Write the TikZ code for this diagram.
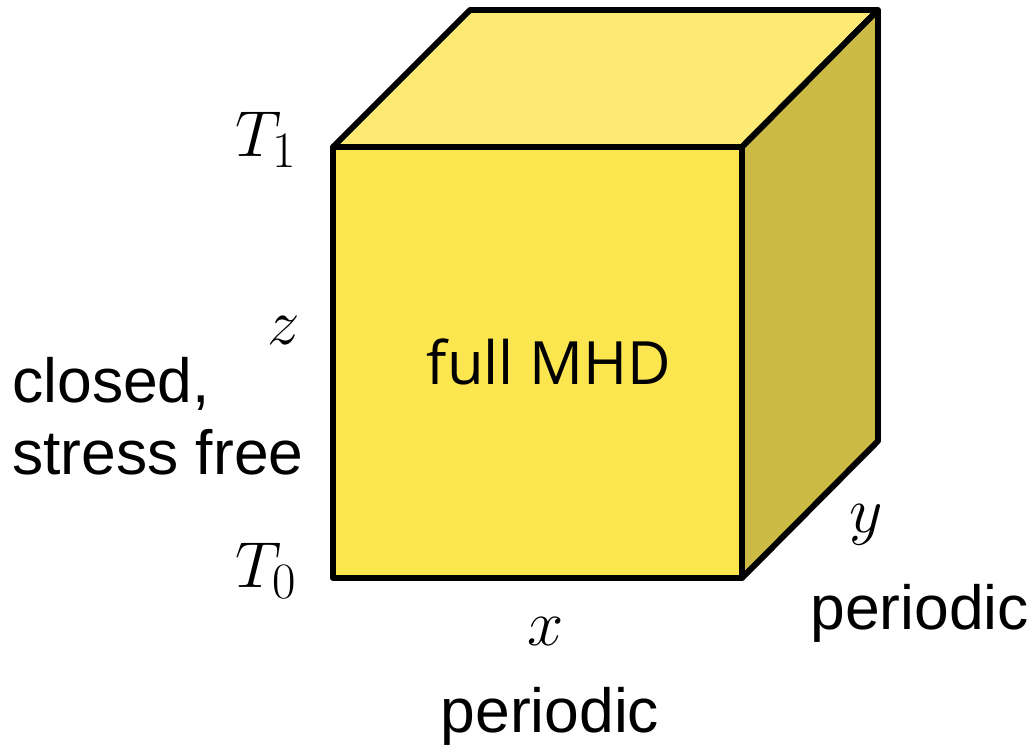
\RequirePackage{fix-cm}
\documentclass[tikz,border=0pt]{standalone}
\usepackage{fontspec}
\setsansfont{Liberation Sans}
\newfontfamily\mhdfont{Open Sans}
\DeclareMathSizes{37}{37}{29}{22}
\definecolor{frontyellow}{RGB}{252,230,80}
\definecolor{topyellow}{RGB}{252,234,117}
\definecolor{sideyellow}{RGB}{203,187,68}

\begin{document}
\begin{tikzpicture}[
    x=0.02cm, y=-0.02cm,
    face/.style={draw, line width=3.4pt, line join=round},
    txt/.style={font=\fontsize{35.5}{41}\selectfont\sffamily, inner sep=0pt, align=left},
    sym/.style={font=\fontsize{37}{44}\selectfont, inner sep=0pt}
]
\useasboundingbox (0,0) rectangle (1032,749);

% Cube corners
\coordinate (fbl) at (333,578);
\coordinate (fbr) at (742,578);
\coordinate (ftl) at (333,147);
\coordinate (ftr) at (742,147);
\coordinate (btl) at (470,10);
\coordinate (btr) at (878,10);
\coordinate (bbr) at (878,441);

% Faces
\filldraw[face, fill=frontyellow] (fbl) -- (fbr) -- (ftr) -- (ftl) -- cycle;
\filldraw[face, fill=topyellow] (ftl) -- (btl) -- (btr) -- (ftr) -- cycle;
\filldraw[face, fill=sideyellow] (fbr) -- (ftr) -- (btr) -- (bbr) -- cycle;

% Inside label
\node[txt, font=\fontsize{34}{40}\selectfont\mhdfont] (mhd) at (549,362) {full MHD};

% Vertical direction
\node[sym, anchor=base west] (tone) at (235,157) {$T_1$};
\node[sym, anchor=base west] (tzero) at (235,588) {$T_0$};
\node[sym] (zlab) at (284,331) {$z$};
\node[txt, anchor=base west] (zbc) at (12,475) {closed,\\stress free};

% Horizontal directions
\node[sym] (xlab) at (546,632) {$x$};
\node[txt, anchor=base] (xbc) at (550,733) {periodic};
\node[sym] (ylab) at (866,525) {$y$};
\node[txt, anchor=base west] (ybc) at (810,630) {periodic};
\end{tikzpicture}
\end{document}
